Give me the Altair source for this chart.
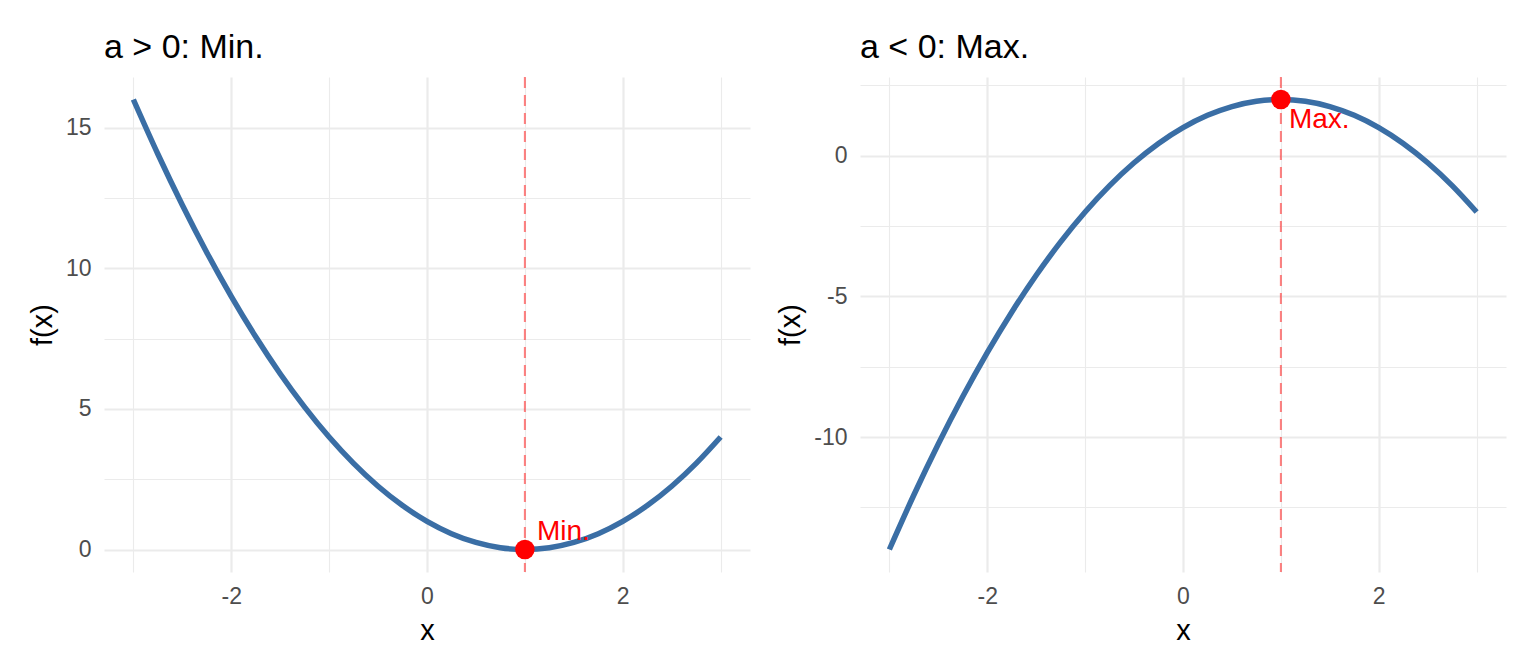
import altair as alt
import pandas as pd

# ---- data ----
x_vals = [-3, -2.75, -2.5, -2.25, -2, -1.75, -1.5, -1.25, -1, -0.75, -0.5, -0.25,
          0, 0.25, 0.5, 0.75, 1, 1.25, 1.5, 1.75, 2, 2.25, 2.5, 2.75, 3]
y_min_panel = [16, 14.0625, 12.25, 10.5625, 9, 7.5625, 6.25, 5.0625, 4, 3.0625, 2.25, 1.5625,
               1, 0.5625, 0.25, 0.0625, 0, 0.0625, 0.25, 0.5625, 1, 1.5625, 2.25, 3.0625, 4]
y_max_panel = [-14, -12.0625, -10.25, -8.5625, -7, -5.5625, -4.25, -3.0625, -2, -1.0625, -0.25, 0.4375,
               1, 1.4375, 1.75, 1.9375, 2, 1.9375, 1.75, 1.4375, 1, 0.4375, -0.25, -1.0625, -2]

extreme_x = [1]
min_point = [0]
max_point = [2]
min_label = ["Min."]
max_label = ["Max."]

titles = ["a > 0: Min.", "a < 0: Max."]
x_ticks = [-3, -2, -1, 0, 1, 2, 3]
y_ticks_min = [0, 2.5, 5, 7.5, 10, 12.5, 15]
y_ticks_max = [-12.5, -10, -7.5, -5, -2.5, 0, 2.5]

LINE = "#3A6EA5"
W, H = 646, 495
FONT = "Liberation Sans"


def panel(yv, ydom, title, yticks, px, py, lab, dx, dy):
    df = pd.DataFrame({"x": x_vals, "y": yv})
    pt = pd.DataFrame({"x": px, "y": py, "label": lab})
    xs = alt.Scale(domain=[-3.3, 3.3], nice=False, zero=False)
    ys = alt.Scale(domain=ydom, nice=False, zero=False)
    xaxis = alt.Axis(values=x_ticks, title="x",
                     labelExpr="datum.value % 2 == 0 ? '' + datum.value : ''",
                     gridWidth=alt.condition("datum.value % 2 != 0", alt.value(1.1), alt.value(2.2)))
    yaxis = alt.Axis(values=yticks, title="f(x)",
                     labelExpr="datum.value % 5 == 0 ? '' + datum.value : ''",
                     gridWidth=alt.condition("datum.value % 5 != 0", alt.value(1.1), alt.value(2.2)))
    line = alt.Chart(df).mark_line(color=LINE, strokeWidth=5.5, interpolate="monotone").encode(
        x=alt.X("x:Q", scale=xs, axis=xaxis),
        y=alt.Y("y:Q", scale=ys, axis=yaxis),
    )
    rule = alt.Chart(pt).mark_rule(color="red", opacity=0.5, strokeWidth=2, strokeDash=[11, 7]).encode(
        x=alt.X("x:Q", scale=xs),
    )
    point = alt.Chart(pt).mark_point(filled=True, color="red", size=380, opacity=1).encode(
        x=alt.X("x:Q", scale=xs),
        y=alt.Y("y:Q", scale=ys),
    )
    text = alt.Chart(pt).mark_text(color="red", align="left", baseline="alphabetic",
                                   dx=dx, dy=dy, fontSize=28, font=FONT).encode(
        x=alt.X("x:Q", scale=xs),
        y=alt.Y("y:Q", scale=ys),
        text="label:N",
    )
    return alt.layer(rule, line, point, text).properties(
        width=W, height=H,
        title=alt.TitleParams(title, anchor="start", frame="group", fontSize=34, font=FONT,
                              fontWeight="normal", color="black", baseline="alphabetic", offset=-16),
    )


left = panel(y_min_panel, [-0.8, 16.8], titles[0], y_ticks_min, extreme_x, min_point, min_label, 12, -10)
right = panel(y_max_panel, [-14.8, 2.8], titles[1], y_ticks_max, extreme_x, max_point, max_label, 8, 28)

chart = alt.hconcat(left, right, spacing=26).properties(
    padding={"left": 20, "top": 23, "right": 5, "bottom": 5},
    background="white",
).configure_view(stroke=None).configure_axis(
    domain=False, ticks=False, gridColor="#EBEBEB",
    labelFont=FONT, labelFontSize=23, labelColor="#4D4D4D",
    titleFont=FONT, titleFontSize=29, titleColor="black", titleFontWeight="normal",
).configure_axisX(labelPadding=13, titlePadding=8).configure_axisY(labelPadding=13, titlePadding=8)

chart.save("out.html", embed_options={"renderer": "svg", "actions": False})
